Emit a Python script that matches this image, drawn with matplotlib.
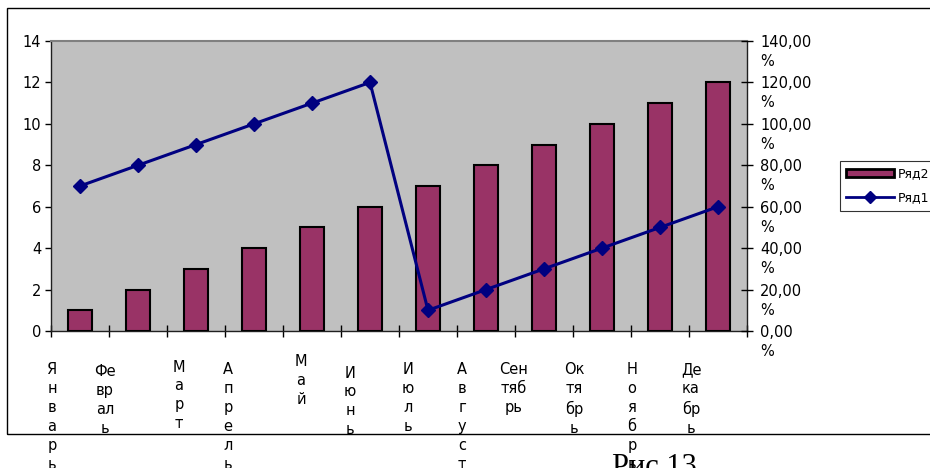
import matplotlib
matplotlib.use("Agg")
import matplotlib.pyplot as plt
from matplotlib.patches import Rectangle, Patch
from matplotlib.lines import Line2D
from matplotlib.transforms import blended_transform_factory, ScaledTranslation

# ---- data ----
months = ["Январь", "Февраль", "Март", "Апрель", "Май", "Июнь",
          "Июль", "Август", "Сентябрь", "Октябрь", "Ноябрь", "Декабрь"]
month_labels = ["Я\nн\nв\nа\nр\nь", "Фе\nвр\nал\nь", "М\nа\nр\nт",
                "А\nп\nр\nе\nл\nь", "М\nа\nй", "И\nю\nн\nь",
                "И\nю\nл\nь", "А\nв\nг\nу\nс\nт", "Сен\nтяб\nрь",
                "Ок\nтя\nбр\nь", "Н\nо\nя\nб\nр\nь", "Де\nка\nбр\nь"]
ryad2 = [1, 2, 3, 4, 5, 6, 7, 8, 9, 10, 11, 12]
ryad1 = [0.70, 0.80, 0.90, 1.00, 1.10, 1.20, 0.10, 0.20, 0.30, 0.40, 0.50, 0.60]
left_ticks = [0, 2, 4, 6, 8, 10, 12, 14]
right_ticks = [0.0, 0.2, 0.4, 0.6, 0.8, 1.0, 1.2, 1.4]
series_names = ["Ряд2", "Ряд1"]
caption = "Рис 13"

# ---- layout (pixels) ----
W, H, DPI = 930, 468, 100
label_dx = [1, -4, 12, 3, 18, 9, 9, 5, -1, 1, 1, 2]
label_top = [363, 365, 360, 363, 355, 366, 363, 363, 363, 363, 363, 363]

BAR = "#993366"
LINE = "#000080"
FS = 10.5

fig = plt.figure(figsize=(W / DPI, H / DPI), dpi=DPI)
fig.patch.set_facecolor("white")

# chart-area frame
fig.add_artist(Rectangle((7 / W, 1 - 434 / H), 2.0, (434 - 8) / H,
                         transform=fig.transFigure, fill=False,
                         edgecolor="black", linewidth=1.0))

ax = fig.add_axes([51 / W, 1 - 331 / H, 696 / W, 290 / H])
ax.set_facecolor("#C0C0C0")
x = list(range(len(months)))
bars = ax.bar(x, ryad2, width=0.42, color=BAR, edgecolor="black",
              linewidth=1.5, zorder=3)
ax.set_xlim(-0.5, len(months) - 0.5)
ax.set_ylim(0, 14)
ax.set_yticks(left_ticks)
ax.set_yticklabels([str(t) for t in left_ticks], fontsize=FS)
ax.tick_params(axis="y", direction="out", length=4, width=1, pad=3,
               colors="black")
ax.set_xticks([i - 0.5 for i in range(len(months) + 1)])
ax.set_xticklabels([])
ax.tick_params(axis="x", direction="inout", length=8, width=1)
for s in ("left", "bottom", "right"):
    ax.spines[s].set_color("#202020")
    ax.spines[s].set_linewidth(1.0)
ax.spines["top"].set_color("#808080")
ax.spines["top"].set_linewidth(1.5)

# category labels
tr = blended_transform_factory(ax.transData, fig.transFigure)
for i, lab in enumerate(month_labels):
    off = ScaledTranslation(label_dx[i] / DPI, 0, fig.dpi_scale_trans)
    ax.text(i - 0.5, 1 - label_top[i] / H + 0.5 / H, lab, transform=tr + off,
            ha="center", va="top", fontsize=FS, linespacing=1.33,
            multialignment="center", clip_on=False)

ax2 = ax.twinx()
ax2.set_ylim(0, 1.4)
line, = ax2.plot(x, ryad1, color=LINE, linewidth=2.2, marker="D",
                 markersize=7.5, markerfacecolor=LINE, markeredgecolor=LINE,
                 zorder=4)
ax2.set_yticks(right_ticks)
ax2.set_yticklabels([])
ax2.tick_params(axis="y", direction="inout", length=8, width=1)
for s in ax2.spines.values():
    s.set_visible(False)

# right-axis labels: first line centred on the tick, "%" below
rtr = blended_transform_factory(ax2.transAxes, ax2.transData) + \
    ScaledTranslation(13 / DPI, -25 / DPI, fig.dpi_scale_trans)
for v in right_ticks:
    ax2.text(1.0, v, f"{v * 100:.2f}".replace(".", ",") + "\n%",
             transform=rtr, ha="left", va="baseline", fontsize=FS,
             linespacing=1.33, multialignment="left", clip_on=False)

# legend
handles = [Patch(facecolor=BAR, edgecolor="black", linewidth=2.0),
           Line2D([], [], color=LINE, linewidth=2.0, marker="D",
                  markersize=6.5, markerfacecolor=LINE, markeredgecolor=LINE)]
leg = fig.legend(handles, series_names, loc="upper left",
                 bbox_to_anchor=(840 / W, 1 - 161 / H),
                 bbox_transform=fig.transFigure, borderaxespad=0,
                 fontsize=9, frameon=True, fancybox=False, shadow=False,
                 handlelength=3.8, handleheight=0.65, handletextpad=0.35,
                 labelspacing=0.9, borderpad=0.5)
leg.get_frame().set_edgecolor("black")
leg.get_frame().set_linewidth(0.8)

fig.text(612 / W, 1 - 475 / H, caption, fontsize=22,
         family="Liberation Serif", va="baseline", ha="left")

fig.savefig("out.png", dpi=DPI)
